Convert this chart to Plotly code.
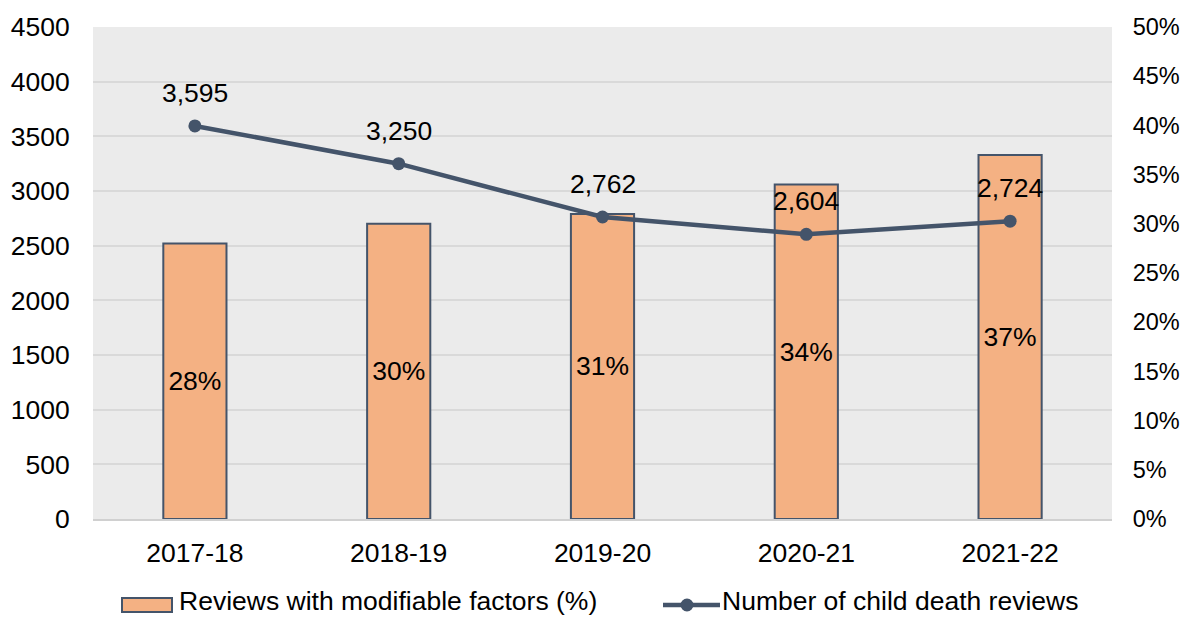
import plotly.graph_objects as go

# Child death reviews by financial year
years = ["2017-18", "2018-19", "2019-20", "2020-21", "2021-22"]
modifiable_pct = [28, 30, 31, 34, 37]
review_counts = [3595, 3250, 2762, 2604, 2724]

bar_name = "Reviews with modifiable factors (%)"
line_name = "Number of child death reviews"

W, H = 1182, 617
L, R, T, B = 93, 70, 27, 98
PW, PH = W - L - R, H - T - B

FONT = "Liberation Sans, Arial, sans-serif"
FS = 26.5
FS_RIGHT = 23.5
BAR_FILL = "#f4b183"
DARK = "#44546a"


def px_x(x):
    return (x - L) / PW


def px_y(y):
    return (H - B - y) / PH


fig = go.Figure()

fig.add_trace(go.Bar(
    x=years, y=modifiable_pct, name=bar_name, yaxis="y",
    width=0.31,
    marker=dict(color=BAR_FILL, line=dict(color=DARK, width=2)),
    text=[f"{v}%" for v in modifiable_pct],
    textposition="inside", insidetextanchor="middle", textangle=0,
    constraintext="none",
    insidetextfont=dict(family=FONT, size=FS, color="#000000"),
    showlegend=False,
))

fig.add_trace(go.Scatter(
    x=years, y=review_counts, name=line_name, yaxis="y2",
    mode="lines+markers",
    line=dict(color=DARK, width=4.5),
    marker=dict(color=DARK, size=13),
    showlegend=False,
))

annotations = [
    dict(x=yr, y=v, xref="x", yref="y2", text=f"{v:,}", showarrow=False,
         yshift=33, font=dict(family=FONT, size=FS, color="#000000"))
    for yr, v in zip(years, review_counts)
]

# Legend drawn below the plot
leg_y = px_y(601)
annotations += [
    dict(x=px_x(177), y=leg_y, xref="paper", yref="paper", text=bar_name,
         xanchor="left", yanchor="middle", showarrow=False,
         font=dict(family=FONT, size=FS, color="#000000")),
    dict(x=px_x(720), y=leg_y, xref="paper", yref="paper", text=line_name,
         xanchor="left", yanchor="middle", showarrow=False,
         font=dict(family=FONT, size=FS, color="#000000")),
]
sw_y = px_y(605)
shapes = [
    dict(type="rect", xref="paper", yref="paper",
         x0=px_x(122), x1=px_x(172), y0=px_y(612), y1=px_y(598),
         fillcolor=BAR_FILL, line=dict(color=DARK, width=2)),
    dict(type="line", xref="paper", yref="paper",
         x0=px_x(663), x1=px_x(720), y0=sw_y, y1=sw_y,
         line=dict(color=DARK, width=4.5)),
    dict(type="circle", xref="paper", yref="paper",
         x0=px_x(680.5), x1=px_x(693.5), y0=px_y(611.5), y1=px_y(598.5),
         fillcolor=DARK, line=dict(color=DARK, width=0)),
]

fig.update_layout(
    width=W, height=H,
    margin=dict(l=L, r=R, t=T, b=B, pad=0),
    paper_bgcolor="#ffffff",
    plot_bgcolor="#ebebeb",
    font=dict(family=FONT, size=FS, color="#000000"),
    showlegend=False,
    xaxis=dict(
        type="category", showgrid=False, zeroline=False, automargin=False,
        showline=True, linecolor="#d0d0d0", linewidth=1.5,
        ticks="outside", ticklen=0, ticklabelstandoff=9,
        tickfont=dict(family=FONT, size=FS, color="#000000"),
    ),
    yaxis=dict(
        side="right", range=[0, 50], dtick=5, ticksuffix="%",
        showgrid=False, zeroline=False, showline=False, automargin=False,
        ticks="outside", ticklen=0, ticklabelstandoff=15,
        tickfont=dict(family=FONT, size=FS_RIGHT, color="#000000"),
    ),
    yaxis2=dict(
        side="left", overlaying="y", range=[0, 4500], dtick=500,
        showgrid=True, gridcolor="#d9d9d9", gridwidth=1.5, automargin=False,
        zeroline=False, showline=False,
        ticks="outside", ticklen=0, ticklabelstandoff=17,
        tickformat="d",
        tickfont=dict(family=FONT, size=FS, color="#000000"),
    ),
    annotations=annotations,
    shapes=shapes,
)

fig.write_html("out.html")
